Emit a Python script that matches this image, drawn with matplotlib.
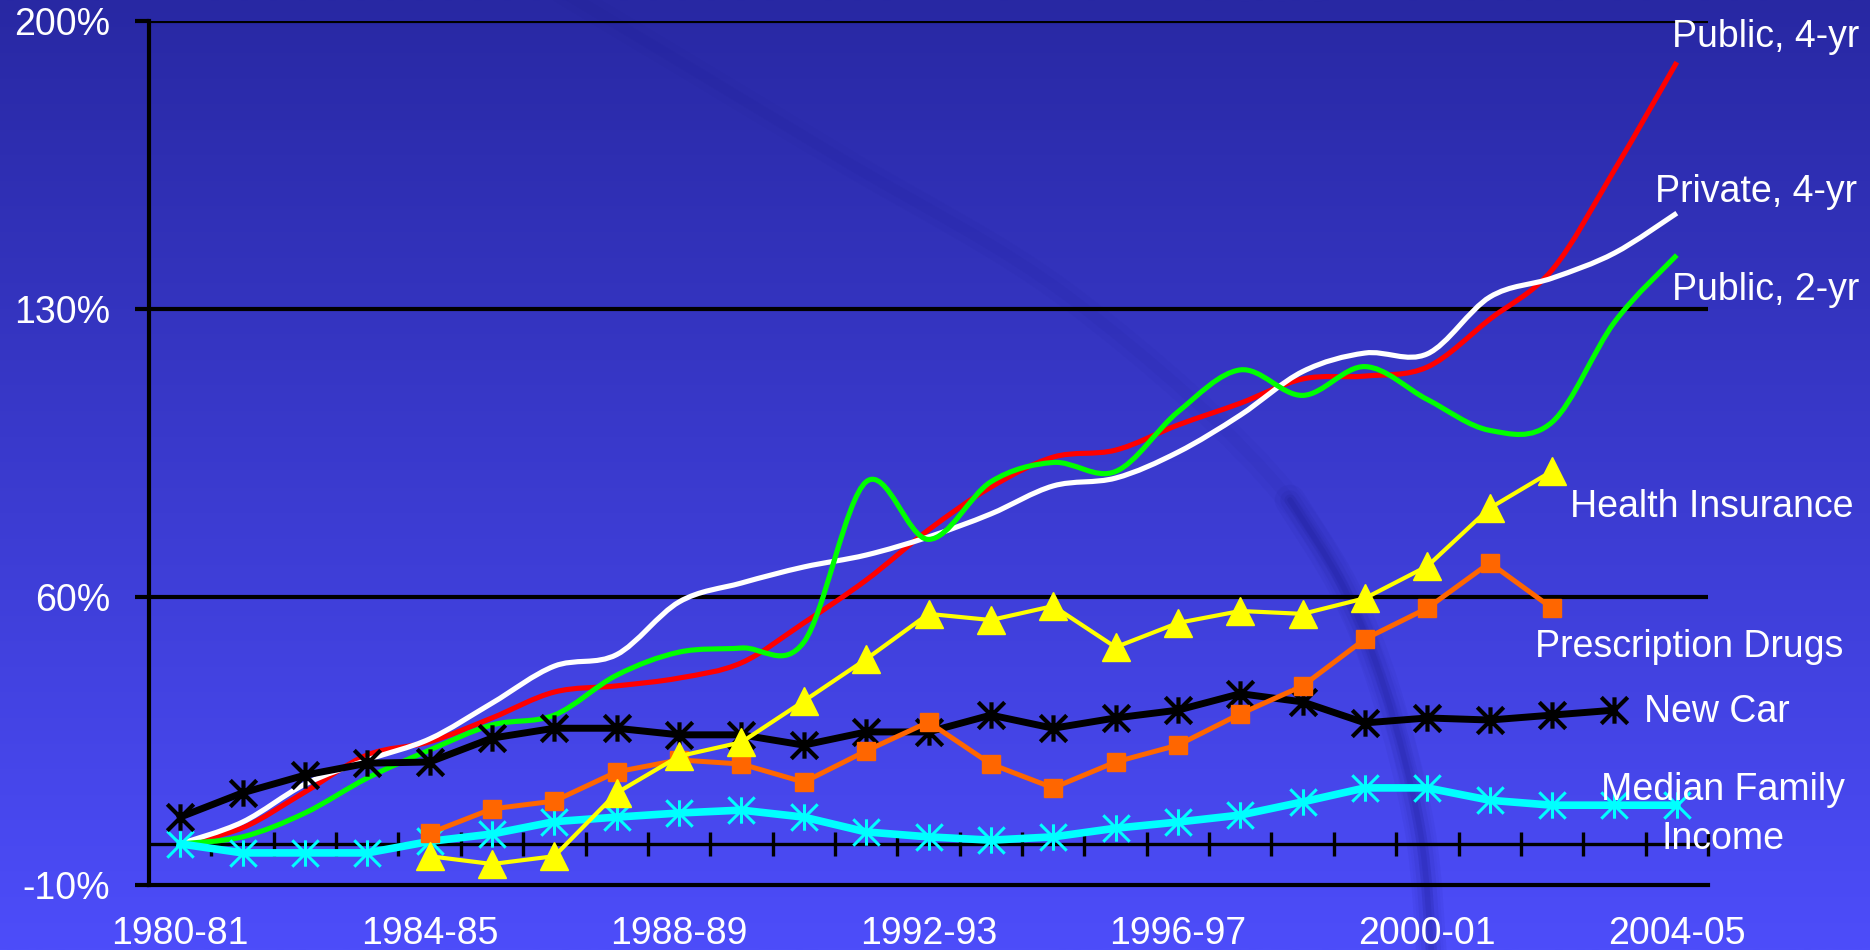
import numpy as np
import matplotlib
matplotlib.use("Agg")
import matplotlib.pyplot as plt
from matplotlib.path import Path
from matplotlib.patches import PathPatch

# ---------------- data ----------------
years = ["1980-81", "1981-82", "1982-83", "1983-84", "1984-85", "1985-86",
         "1986-87", "1987-88", "1988-89", "1989-90", "1990-91", "1991-92",
         "1992-93", "1993-94", "1994-95", "1995-96", "1996-97", "1997-98",
         "1998-99", "1999-00", "2000-01", "2001-02", "2002-03", "2003-04",
         "2004-05"]
tick_years = ["1980-81", "1984-85", "1988-89", "1992-93", "1996-97",
              "2000-01", "2004-05"]
y_ticks = [-10, 60, 130, 200]
y_tick_labels = ["-10%", "60%", "130%", "200%"]

public_4yr = [0, 3.9, 12.6, 21.6, 24.8, 30.6, 36.9, 38.4, 40.3, 44.0, 53.7,
              64.1, 76.3, 86.7, 94.0, 95.7, 101.8, 107.1, 113.0, 113.7, 115.9,
              127.5, 139.5, 163.8, 190.0]
private_4yr = [0, 5.3, 14.5, 20.4, 25.5, 34.2, 43.2, 46.0, 58.8, 63.4, 67.3,
               70.2, 74.6, 80.2, 87.0, 88.9, 95.2, 104.2, 114.8, 119.3, 119.1,
               132.9, 137.5, 143.6, 153.3]
public_2yr = [0, 1.7, 7.5, 16.0, 22.8, 28.9, 31.3, 41.0, 46.6, 47.6, 49.0,
              88.0, 74.0, 88.0, 92.7, 90.5, 105.0, 115.2, 109.0, 116.0, 108.0,
              100.5, 102.5, 126.8, 143.1]
# 1984-85 .. 2002-03
health_insurance = [-3.0, -4.9, -3.0, 12.4, 21.3, 24.7, 34.7, 44.9, 55.9,
                    54.4, 57.8, 47.8, 53.7, 56.6, 55.9, 59.7, 67.5, 81.6, 90.6]
prescription_drugs = [2.6, 8.5, 10.4, 17.5, 20.4, 19.4, 15.0, 22.6, 29.6,
                      19.4, 13.6, 19.9, 24.0, 31.6, 38.4, 49.8, 57.3, 68.3, 57.3]
# 1980-81 .. 2003-04
new_car = [6.5, 12.4, 16.7, 19.6, 19.9, 25.7, 28.1, 28.1, 26.5, 26.5, 24.0,
           27.2, 27.2, 31.3, 28.1, 30.6, 32.5, 36.5, 34.5, 29.4, 30.6, 30.1,
           31.3, 32.5]
# 1980-81 .. 2004-05
median_income = [0, -2.2, -2.2, -2.2, 0.6, 2.4, 5.4, 6.5, 7.5, 8.2, 6.5, 2.9,
                 1.7, 0.9, 1.7, 3.8, 5.3, 7.0, 10.2, 13.6, 13.6, 10.6, 9.4,
                 9.4, 9.4]

# ---------------- style ----------------
plt.rcParams["font.family"] = ["Liberation Sans", "DejaVu Sans"]
FS = 27
W, H, DPI = 1870, 950, 100

fig = plt.figure(figsize=(W / DPI, H / DPI), dpi=DPI)


def smooth_path(xs, ys):
    xs = np.asarray(xs, float)
    ys = np.asarray(ys, float)
    n = len(xs)
    verts = [(xs[0], ys[0])]
    codes = [Path.MOVETO]
    for i in range(n - 1):
        xa, ya = (xs[i - 1], ys[i - 1]) if i > 0 else (xs[i], ys[i])
        xb, yb = (xs[i + 2], ys[i + 2]) if i + 2 < n else (xs[i + 1], ys[i + 1])
        c1 = (xs[i] + (xs[i + 1] - xa) / 6, ys[i] + (ys[i + 1] - ya) / 6)
        c2 = (xs[i + 1] - (xb - xs[i]) / 6, ys[i + 1] - (yb - ys[i]) / 6)
        verts += [c1, c2, (xs[i + 1], ys[i + 1])]
        codes += [Path.CURVE4] * 3
    return Path(verts, codes)


# background gradient with a faint decorative swoosh
bg = fig.add_axes([0, 0, 1, 1], zorder=-10)
top = np.array([40, 40, 163]) / 255.0
bot = np.array([77, 77, 250]) / 255.0
t = np.linspace(0, 1, 256)[:, None, None]
grad = top * (1 - t) + bot * t
bg.imshow(grad, aspect="auto", extent=[0, W, H, 0], interpolation="bilinear")
bg.set_xlim(0, W)
bg.set_ylim(H, 0)
swoosh_x = [560, 835, 1073, 1290, 1385, 1420, 1432]
swoosh_y = [-10, 155, 300, 500, 690, 830, 960]
for lw, a in [(18, 0.04), (8, 0.05)]:
    bg.add_patch(PathPatch(smooth_path(swoosh_x, swoosh_y), fill=False,
                           edgecolor=(0.08, 0.08, 0.5), lw=lw, alpha=a))
low_x = [1290, 1345, 1385, 1420, 1432]
low_y = [500, 590, 690, 830, 960]
for lw, a in [(22, 0.06), (14, 0.08), (8, 0.10), (4, 0.12)]:
    bg.add_patch(PathPatch(smooth_path(low_x, low_y), fill=False,
                           edgecolor=(0.08, 0.08, 0.5), lw=lw, alpha=a,
                           capstyle="round"))
bg.set_axis_off()

ax = fig.add_axes([149 / W, 1 - 885 / H, (1708 - 149) / W, (885 - 21) / H])
ax.set_facecolor("none")
ax.set_xlim(-0.5, 24.5)
ax.set_ylim(-10, 200)

for s in ["top", "right"]:
    ax.spines[s].set_visible(False)
for s in ["left", "bottom"]:
    ax.spines[s].set_color("black")
    ax.spines[s].set_linewidth(3)

ax.set_yticks(y_ticks)
ax.set_yticklabels(y_tick_labels)
ax.tick_params(axis="y", length=10, width=3, color="black", pad=18,
               labelsize=FS, labelcolor="white")
ax.set_xticks(np.arange(0, 25, 4))
ax.set_xticklabels(tick_years)
ax.tick_params(axis="x", length=0, pad=22, labelsize=FS, labelcolor="white")

for gy in [60, 130, 200]:
    ax.axhline(gy, color="black", lw=3, zorder=1)

# zero line with category-boundary ticks
ax.axhline(0, color="black", lw=2.4, zorder=1.5)
bounds = np.arange(0.5, 25, 1.0)
ax.plot(bounds, np.zeros_like(bounds), ls="none", marker="|", ms=17, mew=2.4,
        color="black", zorder=1.6, clip_on=False)

x_all = np.arange(len(years))
for vals, col in [(public_4yr, "#ff0000"), (private_4yr, "#ffffff"),
                  (public_2yr, "#00ff00")]:
    ax.add_patch(PathPatch(smooth_path(x_all[:len(vals)], vals), fill=False,
                           edgecolor=col, lw=3.7, capstyle="butt",
                           joinstyle="round", zorder=3))

star = Path([(0, -1), (0, 1), (-1, -1), (1, 1), (-1, 1), (1, -1)],
            [Path.MOVETO, Path.LINETO, Path.MOVETO, Path.LINETO,
             Path.MOVETO, Path.LINETO])

ax.plot(x_all[:len(median_income)], median_income, color="#00ffff", lw=5.5,
        marker=star, ms=19, mew=2.2, zorder=4)
ax.plot(x_all[:len(new_car)], new_car, color="black", lw=5,
        marker=star, ms=19, mew=3, zorder=5)
x_rx = x_all[4:4 + len(prescription_drugs)]
ax.plot(x_rx, prescription_drugs, color="#ff6600", lw=3.6, marker="s",
        ms=13, mec="#ff6600", zorder=6)
x_hi = x_all[4:4 + len(health_insurance)]
ax.plot(x_hi, health_insurance, color="#ffff00", lw=3.0, marker="^",
        ms=20, mec="#ffff00", zorder=7)


# series labels (placed in data coordinates)
def px2x(px):
    return (px - 149) / ((1708 - 149) / 25.0) - 0.5


def px2y(py):
    return 200 - (py - 21) / ((885 - 21) / 210.0)


labels = [("Public, 4-yr", 1672, 47, "left"),
          ("Private, 4-yr", 1655, 202, "left"),
          ("Public, 2-yr", 1672, 300, "left"),
          ("Health Insurance", 1570, 517, "left"),
          ("Prescription Drugs", 1535, 657, "left"),
          ("New Car", 1644, 722, "left"),
          ("Median Family", 1723, 800, "center"),
          ("Income", 1723, 849, "center")]
for txt, px, py, ha in labels:
    ax.text(px2x(px), px2y(py), txt, color="white", fontsize=FS, ha=ha,
            va="baseline", clip_on=False, zorder=10)

fig.savefig("out.png", dpi=DPI)
